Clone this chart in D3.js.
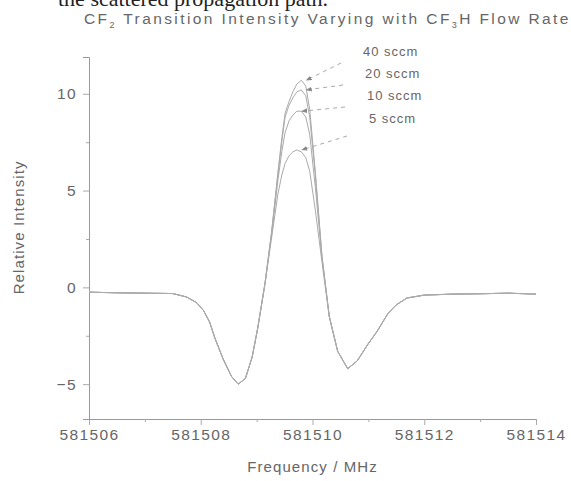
<!DOCTYPE html>
<html>
<head>
<meta charset="utf-8">
<script src="https://cdn.jsdelivr.net/npm/d3@7"></script>
<style>
  body { margin: 0; background: #fff; }
  svg { display: block; }
  text { font-family: "Liberation Sans", Arial, sans-serif; fill: #666; }
</style>
</head>
<body>
<div id="chart"></div>
<script>
// frequency (MHz) shared by every trace
const freq = [581506.0, 581506.5, 581507.0, 581507.5, 581507.75, 581507.93, 581508.05, 581508.16,
    581508.25, 581508.4, 581508.55, 581508.67, 581508.8, 581508.92, 581509.02, 581509.15,
    581509.27, 581509.38, 581509.45, 581509.51, 581509.58, 581509.65, 581509.72, 581509.8,
    581509.88, 581509.95, 581510.05, 581510.17, 581510.3, 581510.45, 581510.63, 581510.8,
    581511.0, 581511.15, 581511.35, 581511.5, 581511.69, 581512.0, 581512.5, 581513.0,
    581513.5, 581514.0];

const flowRates = ["40 sccm", "20 sccm", "10 sccm", "5 sccm"];

const sccm40 = [-0.25, -0.28, -0.3, -0.32, -0.5, -0.8, -1.2, -1.8, -2.6, -3.7, -4.6, -5.0, -4.7, -3.6,
    -2.1, 0.2, 2.9, 5.9, 7.7, 9.0, 9.6, 10.1, 10.5, 10.7, 10.4, 9.2, 6.0, 1.6, -1.5, -3.3, -4.2,
    -3.8, -2.9, -2.3, -1.35, -0.9, -0.55, -0.4, -0.35, -0.33, -0.3, -0.35];
const sccm20 = [-0.25, -0.28, -0.3, -0.32, -0.5, -0.8, -1.2, -1.8, -2.6, -3.7, -4.6, -5.0, -4.7, -3.6,
    -2.1, 0.2, 2.9, 5.8, 7.5, 8.8, 9.4, 9.8, 10.1, 10.2, 9.9, 8.8, 5.8, 1.6, -1.5, -3.3, -4.2,
    -3.8, -2.9, -2.3, -1.35, -0.9, -0.55, -0.4, -0.35, -0.33, -0.3, -0.35];
const sccm10 = [-0.25, -0.28, -0.3, -0.32, -0.5, -0.8, -1.2, -1.8, -2.6, -3.7, -4.6, -5.0, -4.7, -3.6,
    -2.1, 0.2, 2.8, 5.5, 7.0, 8.0, 8.6, 8.9, 9.1, 9.1, 8.8, 7.9, 5.2, 1.5, -1.5, -3.3, -4.2,
    -3.8, -2.9, -2.3, -1.35, -0.9, -0.55, -0.4, -0.35, -0.33, -0.3, -0.35];
const sccm5 = [-0.25, -0.28, -0.3, -0.32, -0.5, -0.8, -1.2, -1.8, -2.6, -3.7, -4.6, -5.0, -4.7, -3.6,
    -2.1, 0.2, 2.6, 4.8, 5.8, 6.4, 6.8, 7.0, 7.1, 7.0, 6.7, 6.0, 4.0, 1.3, -1.5, -3.3, -4.2,
    -3.8, -2.9, -2.3, -1.35, -0.9, -0.55, -0.4, -0.35, -0.33, -0.3, -0.35];

const xTicks = [581506, 581508, 581510, 581512, 581514];
const xMinor = [581507, 581509, 581511, 581513];
const yTicks = [-5, 0, 5, 10];
const yMinor = [-2.5, 2.5, 7.5];

const series = [sccm40, sccm20, sccm10, sccm5];

const width = 571, height = 481;

const svg = d3.select("#chart").append("svg")
    .attr("width", width)
    .attr("height", height);

const x = d3.scaleLinear().domain([581506, 581514]).range([89, 536]);
const y = d3.scaleLinear().domain([-6.8, 11.9]).range([419, 57]);

// bit of the page text above the figure (scan)
svg.append("text")
    .attr("x", 58).attr("y", 6)
    .style("font-family", "'Liberation Serif', serif")
    .style("font-size", "22px")
    .style("fill", "#222")
    .text("the scattered propagation path.");

// title
const title = svg.append("text")
    .attr("x", 84).attr("y", 24)
    .style("font-size", "15.5px")
    .style("letter-spacing", "2.4px");
title.append("tspan").text("CF");
title.append("tspan").attr("dy", 4).style("font-size", "9px").text("2");
title.append("tspan").attr("dy", -4).text(" Transition Intensity Varying with CF");
title.append("tspan").attr("dy", 4).style("font-size", "9px").text("3");
title.append("tspan").attr("dy", -4).text("H Flow Rate");

// axes
svg.append("g")
    .attr("transform", "translate(0," + y.range()[0] + ")")
    .call(d3.axisBottom(x).tickValues(xTicks).tickFormat(d3.format("d")).tickSize(6).tickPadding(4));
svg.append("g")
    .attr("transform", "translate(0," + y.range()[0] + ")")
    .call(d3.axisBottom(x).tickValues(xMinor).tickFormat("").tickSize(3))
    .select(".domain").remove();

svg.append("g")
    .attr("transform", "translate(" + x.range()[0] + ",0)")
    .call(d3.axisLeft(y).tickValues(yTicks).tickSize(6).tickPadding(6));
svg.append("g")
    .attr("transform", "translate(" + x.range()[0] + ",0)")
    .call(d3.axisLeft(y).tickValues(yMinor).tickFormat("").tickSize(3))
    .select(".domain").remove();

svg.selectAll(".domain").attr("stroke", "#999").attr("stroke-width", 1);
svg.selectAll(".tick line").attr("stroke", "#aaa");
svg.selectAll(".tick text")
    .style("font-size", "15.5px")
    .style("letter-spacing", "1.4px")
    .style("fill", "#666");

// axis labels
svg.append("text")
    .attr("x", x(581510)).attr("y", 472)
    .attr("text-anchor", "middle")
    .style("font-size", "15px")
    .style("letter-spacing", "1.1px")
    .text("Frequency / MHz");

svg.append("text")
    .attr("transform", "translate(24," + y(3.1) + ") rotate(-90)")
    .attr("text-anchor", "middle")
    .style("font-size", "15px")
    .style("letter-spacing", "1.1px")
    .text("Relative Intensity");

// traces
const line = d3.line()
    .x((d, i) => x(freq[i]))
    .y(d => y(d));

svg.selectAll(".trace")
    .data(series)
    .enter().append("path")
    .attr("class", "trace")
    .attr("d", line)
    .attr("fill", "none")
    .attr("stroke", "#aaa")
    .attr("stroke-width", 1);

// flow rate labels with dashed pointers to each peak
svg.append("defs").append("marker")
    .attr("id", "head")
    .attr("viewBox", "0 0 10 10")
    .attr("refX", 9).attr("refY", 5)
    .attr("markerWidth", 6).attr("markerHeight", 6)
    .attr("orient", "auto")
    .append("path")
    .attr("d", "M0,1 L10,5 L0,9 z")
    .attr("fill", "#888");

const labelY = [56, 78, 100, 123];
const labelX = [363, 365, 367, 369];

flowRates.forEach((name, k) => {
    const vals = series[k];
    const peak = d3.maxIndex(vals);
    svg.append("line")
        .attr("x1", labelX[k] - 22)
        .attr("y1", labelY[k] + 7 + (k === 3 ? 6 : 0))
        .attr("x2", x(freq[peak]) + 5)
        .attr("y2", y(vals[peak]))
        .attr("stroke", "#aaa")
        .attr("stroke-dasharray", "4,4")
        .attr("marker-end", "url(#head)");
    svg.append("text")
        .attr("x", labelX[k]).attr("y", labelY[k])
        .style("font-size", "13px")
        .style("letter-spacing", "1px")
        .text(name);
});
</script>
</body>
</html>
